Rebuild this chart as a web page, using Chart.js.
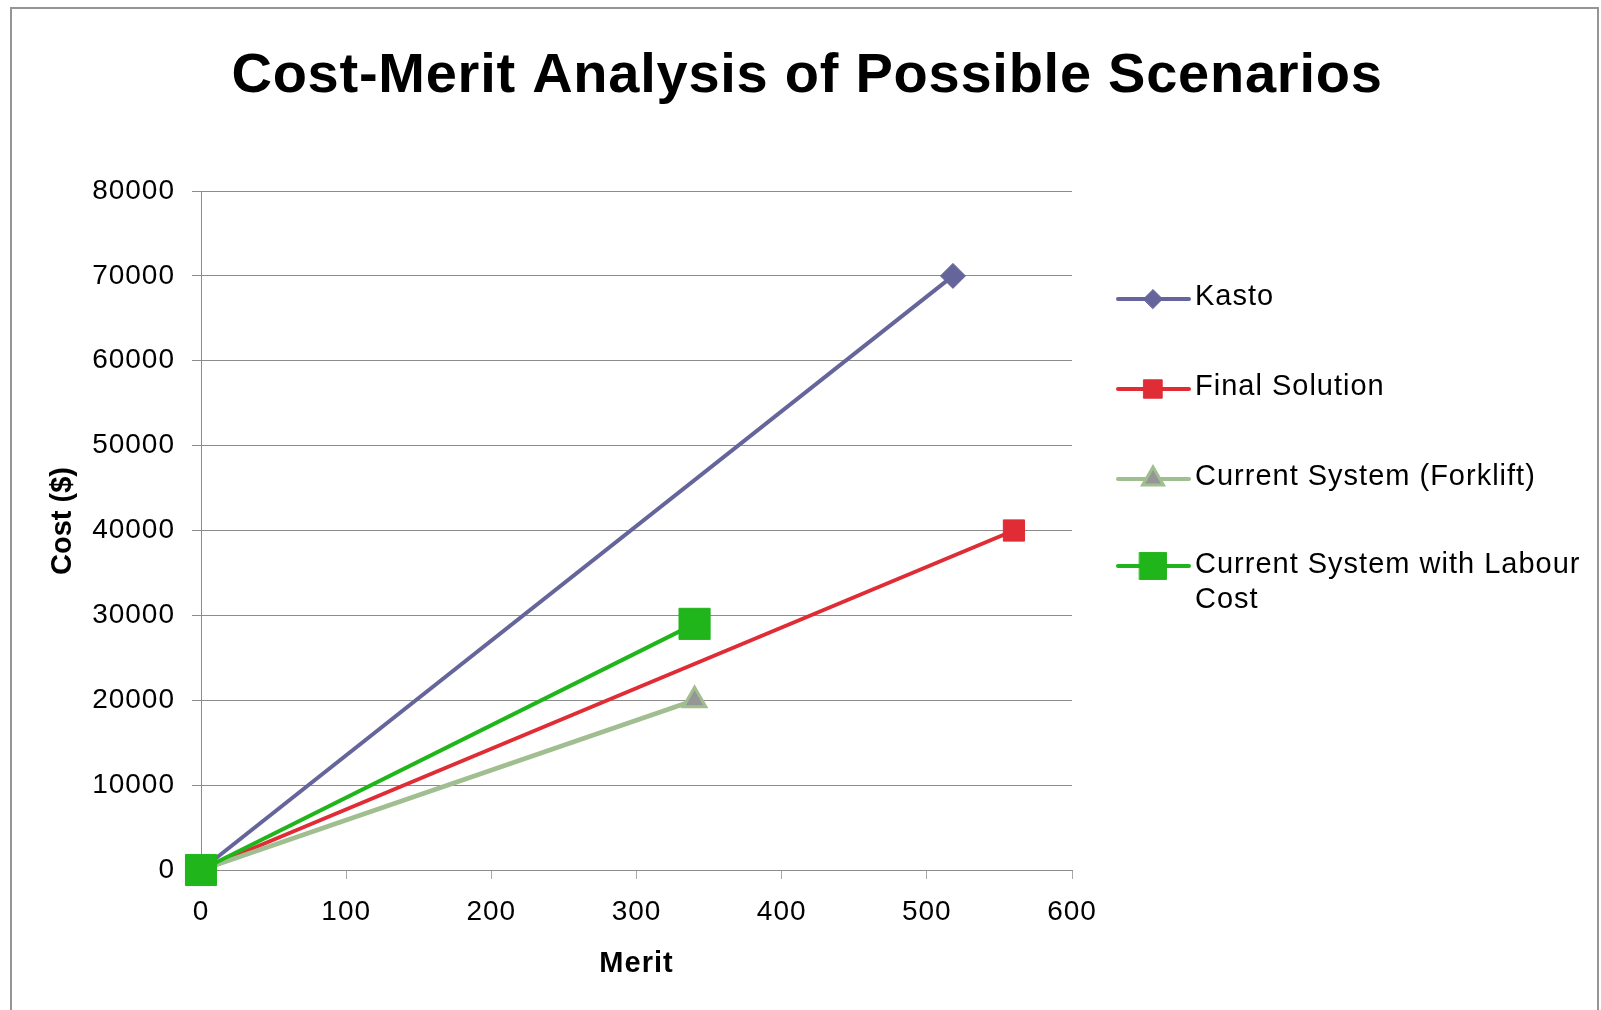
<!DOCTYPE html>
<html>
<head>
<meta charset="utf-8">
<script src="https://cdn.jsdelivr.net/npm/chart.js@4/dist/chart.umd.min.js"></script>
<style>
  html, body { margin: 0; padding: 0; background: #fff; overflow: hidden; }
  #wrap { position: relative; width: 1601px; height: 1010px; overflow: hidden; }
  #frame { position: absolute; left: 10px; top: 7px; width: 1589px; height: 1100px; border: 2px solid #959595; box-sizing: border-box; pointer-events: none; }
  canvas { position: absolute; left: 0; top: 0; }
</style>
</head>
<body>
<div id="wrap">
  <canvas id="chart" width="1601" height="1010"></canvas>
  <div id="frame"></div>
</div>
<script>
(function () {
    var chartTitle = 'Cost-Merit Analysis of Possible Scenarios';
    var xTitle = 'Merit';
    var yTitle = 'Cost ($)';
    var seriesNames = ['Kasto', 'Final Solution', 'Current System (Forklift)', 'Current System with Labour Cost'];
    var kastoMerit = [0, 518];
    var kastoCost = [0, 70000];
    var finalMerit = [0, 560];
    var finalCost = [0, 40000];
    var forkliftMerit = [0, 340];
    var forkliftCost = [0, 20000];
    var labourMerit = [0, 340];
    var labourCost = [0, 29000];
    var xTicks = [0, 100, 200, 300, 400, 500, 600];
    var yTicks = [0, 10000, 20000, 30000, 40000, 50000, 60000, 70000, 80000];

    var pts = function (xs, ys) { return xs.map(function (x, i) { return { x: x, y: ys[i] }; }); };
    var FONT = '"Liberation Sans", Arial, sans-serif';

    Chart.defaults.font.family = FONT;
    Chart.defaults.color = '#000';

    // legend rows (the last name wraps onto two lines like the original)
    var legendRows = [
        { lines: ['Kasto'], lineY: 299, base: [305], r: 9.5 },
        { lines: ['Final Solution'], lineY: 389, base: [395], r: 13 },
        { lines: ['Current System (Forklift)'], lineY: 479, base: [485], r: 12 },
        { lines: ['Current System with Labour', 'Cost'], lineY: 566, base: [573, 608], r: 19 }
    ];

    function marker(ctx, style, x, y, r, fill, stroke, bw) {
        ctx.save();
        ctx.fillStyle = fill;
        ctx.strokeStyle = stroke;
        ctx.lineWidth = bw;
        ctx.beginPath();
        if (style === 'rectRot') {
            ctx.moveTo(x - r, y); ctx.lineTo(x, y - r); ctx.lineTo(x + r, y); ctx.lineTo(x, y + r);
        } else if (style === 'triangle') {
            var h = r * 0.866;
            ctx.moveTo(x, y - r); ctx.lineTo(x + h, y + r / 2); ctx.lineTo(x - h, y + r / 2);
        } else {
            var s = r * Math.SQRT1_2;
            ctx.rect(x - s, y - s, 2 * s, 2 * s);
        }
        ctx.closePath();
        ctx.fill();
        if (bw) ctx.stroke();
        ctx.restore();
    }

    var extras = {
        id: 'extras',
        beforeDraw: function (chart) {
            chart.ctx.letterSpacing = '1px';
        },
        afterDraw: function (chart) {
            var ctx = chart.ctx;
            ctx.save();
            ctx.fillStyle = '#000';

            ctx.font = 'bold 56px ' + FONT;
            ctx.letterSpacing = '0.75px';
            ctx.textAlign = 'center';
            ctx.textBaseline = 'alphabetic';
            ctx.fillText(chartTitle, 807, 92);

            // y axis title
            ctx.save();
            ctx.font = 'bold 29px ' + FONT;
            ctx.letterSpacing = '0px';
            ctx.textBaseline = 'middle';
            ctx.translate(63, 521);
            ctx.rotate(-Math.PI / 2);
            ctx.fillText(yTitle, 0, 0);
            ctx.restore();

            // legend
            ctx.font = '29px ' + FONT;
            ctx.letterSpacing = '1px';
            ctx.textAlign = 'left';
            chart.data.datasets.forEach(function (ds, i) {
                var row = legendRows[i];
                ctx.strokeStyle = ds.borderColor;
                ctx.lineWidth = 4;
                ctx.lineCap = 'round';
                ctx.beginPath();
                ctx.moveTo(1118, row.lineY);
                ctx.lineTo(1189, row.lineY);
                ctx.stroke();
                marker(ctx, ds.pointStyle, 1153, row.lineY, row.r, ds.pointBackgroundColor, ds.pointBorderColor, ds.pointBorderWidth);
                ctx.fillStyle = '#000';
                row.lines.forEach(function (t, k) { ctx.fillText(t, 1195, row.base[k]); });
            });
            ctx.restore();
        }
    };

    new Chart(document.getElementById('chart'), {
        type: 'scatter',
        data: {
            datasets: [
                {
                    label: seriesNames[0],
                    data: pts(kastoMerit, kastoCost),
                    showLine: true,
                    borderColor: '#65659b',
                    borderWidth: 4,
                    pointStyle: 'rectRot',
                    pointRadius: 12.5,
                    pointBackgroundColor: '#65659b',
                    pointBorderColor: '#65659b',
                    pointBorderWidth: 1,
                    order: 4
                },
                {
                    label: seriesNames[1],
                    data: pts(finalMerit, finalCost),
                    showLine: true,
                    borderColor: '#df2c35',
                    borderWidth: 4,
                    pointStyle: 'rect',
                    pointRadius: 15,
                    pointBackgroundColor: '#df2c35',
                    pointBorderColor: '#df2c35',
                    pointBorderWidth: 1,
                    order: 3
                },
                {
                    label: seriesNames[2],
                    data: pts(forkliftMerit, forkliftCost),
                    showLine: true,
                    borderColor: '#a0be90',
                    borderWidth: 4.5,
                    pointStyle: 'triangle',
                    pointRadius: 13,
                    pointBackgroundColor: '#969696',
                    pointBorderColor: '#a0be90',
                    pointBorderWidth: 3,
                    order: 2
                },
                {
                    label: seriesNames[3],
                    data: pts(labourMerit, labourCost),
                    showLine: true,
                    borderColor: '#20b51a',
                    borderWidth: 4,
                    pointStyle: 'rect',
                    pointRadius: 22,
                    pointBackgroundColor: '#20b51a',
                    pointBorderColor: '#20b51a',
                    pointBorderWidth: 1,
                    order: 1
                }
            ]
        },
        options: {
            responsive: false,
            devicePixelRatio: 1,
            animation: false,
            clip: false,
            layout: { padding: { top: 191, left: 12, right: 529, bottom: 0 } },
            elements: { line: { tension: 0 } },
            plugins: {
                legend: { display: false },
                title: { display: false },
                tooltip: { enabled: false }
            },
            scales: {
                x: {
                    type: 'linear',
                    min: xTicks[0],
                    max: xTicks[xTicks.length - 1],
                    afterFit: function (s) { s.height = 140; },
                    afterBuildTicks: function (s) { s.ticks = xTicks.map(function (v) { return { value: v }; }); },
                    ticks: {
                        font: { size: 28 },
                        padding: 16,
                        maxRotation: 0,
                        callback: function (v) { return String(v); }
                    },
                    grid: { drawOnChartArea: false, tickLength: 9, color: '#a8a8a8' },
                    border: { color: '#8c8c8c', width: 1 },
                    title: { display: true, text: xTitle, font: { size: 29, weight: 'bold' }, padding: { top: 0, bottom: 29 } }
                },
                y: {
                    type: 'linear',
                    min: yTicks[0],
                    max: yTicks[yTicks.length - 1],
                    afterFit: function (s) { s.width = 189; },
                    afterBuildTicks: function (s) { s.ticks = yTicks.map(function (v) { return { value: v }; }); },
                    ticks: {
                        font: { size: 28 },
                        padding: 17,
                        callback: function (v) { return String(v); }
                    },
                    grid: { tickLength: 9, color: '#8c8c8c' },
                    border: { color: '#8c8c8c', width: 1 },
                    title: { display: false }
                }
            }
        },
        plugins: [extras]
    });
})();
</script>
</body>
</html>
